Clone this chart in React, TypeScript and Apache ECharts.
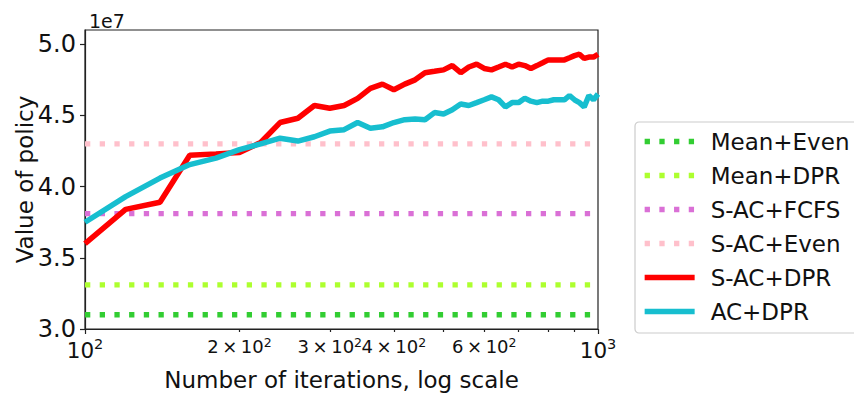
import React, { useEffect, useRef } from "react";
import * as echarts from "echarts";

const iterations = [
  100, 120, 140, 160, 180, 200, 220, 240, 260, 280, 300, 320, 340, 360, 380, 400,
  420, 440, 460, 480, 500, 520, 540, 560, 580, 600, 620, 640, 660, 680, 700, 720,
  740, 760, 780, 800, 820, 840, 860, 880, 900, 920, 940, 960, 980, 1000,
];

const sacDpr = [
  3.6, 3.84, 3.89, 4.22, 4.23, 4.24, 4.31, 4.45, 4.48, 4.57, 4.55, 4.57, 4.62, 4.69, 4.72, 4.68,
  4.72, 4.75, 4.8, 4.81, 4.82, 4.85, 4.8, 4.84, 4.86, 4.83, 4.82, 4.84, 4.86, 4.84, 4.86, 4.85,
  4.83, 4.85, 4.87, 4.89, 4.89, 4.89, 4.89, 4.905, 4.92, 4.93, 4.9, 4.91, 4.91, 4.93,
];

const acDpr = [
  3.75, 3.93, 4.06, 4.155, 4.2, 4.26, 4.3, 4.34, 4.32, 4.35, 4.39, 4.4, 4.45, 4.41, 4.42, 4.45,
  4.47, 4.475, 4.47, 4.52, 4.51, 4.54, 4.58, 4.57, 4.59, 4.61, 4.63, 4.61, 4.56, 4.59, 4.59, 4.62,
  4.6, 4.59, 4.6, 4.6, 4.61, 4.61, 4.61, 4.64, 4.61, 4.59, 4.56, 4.64, 4.61, 4.65,
];

const baselineNames = ["Mean+Even", "Mean+DPR", "S-AC+FCFS", "S-AC+Even"];
const baselineValues = [3.1, 3.31, 3.81, 4.3];
const baselineColors = ["#32cd32", "#adff2f", "#da70d6", "#ffc0cb"];

const xRange = [100, 1000];
const xMajorTicks = [100, 1000];
const xLabelValues = [100, 200, 300, 400, 600, 1000];
const xMinorTicks = [200, 300, 400, 500, 600, 700, 800, 900];
const yRange = [3.0, 5.1];

const FONT = "DejaVu Sans";

function xLabel(v: number): string {
  const e = Math.floor(Math.log10(v) + 1e-9);
  const m = Math.round(v / Math.pow(10, e));
  if (m === 1) return `{b|10}{s|${e}}`;
  return `{mb|${m}\u2009×\u200910}{ms|${e}}`;
}

export default function App() {
  const ref = useRef<HTMLDivElement>(null);
  useEffect(() => {
    if (!ref.current) return;
    const chart = echarts.init(ref.current, null, { renderer: "svg" });

    const baselineSeries = baselineNames.map((name, i) => ({
      name,
      type: "line",
      data: xRange.map((x) => [x, baselineValues[i]]),
      symbol: "none",
      lineStyle: { color: baselineColors[i], width: 5.3, type: [5.3, 9.4], cap: "butt" },
      itemStyle: { color: baselineColors[i] },
      z: 2,
    }));

    const axisLineStyle = { color: "#222", width: 1.2 };

    const option: any = {
      animation: false,
      title: {
        text: "1e7",
        left: 84,
        top: 6,
        textStyle: { fontFamily: FONT, fontSize: 19, fontWeight: "normal", color: "#111" },
      },
      grid: {
        left: 85,
        right: 256,
        top: 30,
        bottom: 64,
        containLabel: false,
        outerBoundsMode: "none",
        show: true,
        borderColor: "#222",
        borderWidth: 1.2,
        backgroundColor: "#fff",
      },
      legend: {
        orient: "vertical",
        left: 635,
        top: 122,
        itemWidth: 50,
        itemHeight: 12,
        itemGap: 11,
        padding: [8, 10, 10, 7],
        borderColor: "#cccccc",
        borderWidth: 1.2,
        borderRadius: 4,
        backgroundColor: "#fff",
        itemStyle: { opacity: 0 },
        lineStyle: { width: 5.3 },
        textStyle: {
          fontFamily: FONT,
          fontSize: 23,
          color: "#111",
          lineHeight: 23,
          padding: [0, 0, 0, 11],
        },
        data: [...baselineNames, "S-AC+DPR", "AC+DPR"],
      },
      xAxis: [
        {
          type: "log",
          logBase: 10,
          position: "bottom",
          min: xRange[0],
          max: xRange[1],
          name: "Number of iterations, log scale",
          nameLocation: "middle",
          nameGap: 39,
          nameMoveOverlap: false,
          nameTextStyle: { fontFamily: FONT, fontSize: 23, color: "#111" },
          axisLine: { show: true, lineStyle: axisLineStyle },
          axisTick: { show: true, inside: false, length: 5, lineStyle: axisLineStyle, customValues: xMajorTicks },
          minorTick: { show: false },
          splitLine: { show: false },
          axisLabel: {
            margin: 7,
            color: "#111",
            fontFamily: FONT,
            customValues: xLabelValues,
            formatter: (v: number) => xLabel(v),
            rich: {
              b: { fontFamily: FONT, fontSize: 21.5, color: "#111" },
              s: { fontFamily: FONT, fontSize: 14.5, color: "#111", padding: [0, 0, 13, 0] },
              mb: { fontFamily: FONT, fontSize: 18, color: "#111" },
              ms: { fontFamily: FONT, fontSize: 12.5, color: "#111", padding: [0, 0, 8, 0] },
            },
          },
        },
        {
          type: "log",
          logBase: 10,
          position: "bottom",
          min: xRange[0],
          max: xRange[1],
          axisLine: { show: false },
          axisTick: { show: true, inside: false, length: 3, lineStyle: axisLineStyle, customValues: xMinorTicks },
          axisLabel: { show: false },
          splitLine: { show: false },
        },
      ],
      yAxis: {
        type: "value",
        min: yRange[0],
        max: yRange[1],
        interval: 0.5,
        name: "Value of policy",
        nameLocation: "middle",
        nameGap: 49,
        nameMoveOverlap: false,
        nameTextStyle: { fontFamily: FONT, fontSize: 23, color: "#111" },
        axisLine: { show: true, lineStyle: axisLineStyle },
        axisTick: { show: true, inside: false, length: 5, lineStyle: axisLineStyle },
        splitLine: { show: false },
        axisLabel: {
          margin: 9,
          fontFamily: FONT,
          fontSize: 24,
          color: "#111",
          showMaxLabel: false,
          formatter: (v: number) => v.toFixed(1),
        },
      },
      series: [
        ...baselineSeries,
        {
          name: "S-AC+DPR",
          type: "line",
          data: iterations.map((x, i) => [x, sacDpr[i]]),
          symbol: "none",
          lineStyle: { color: "#ff0000", width: 5.5 },
          itemStyle: { color: "#ff0000" },
          z: 3,
        },
        {
          name: "AC+DPR",
          type: "line",
          data: iterations.map((x, i) => [x, acDpr[i]]),
          symbol: "none",
          lineStyle: { color: "#17becf", width: 5.5 },
          itemStyle: { color: "#17becf" },
          z: 4,
        },
      ],
    };
    chart.setOption(option);
    return () => chart.dispose();
  }, []);
  return <div ref={ref} style={{ width: 854, height: 393, position: "absolute", left: 0, top: 0 }} />;
}
